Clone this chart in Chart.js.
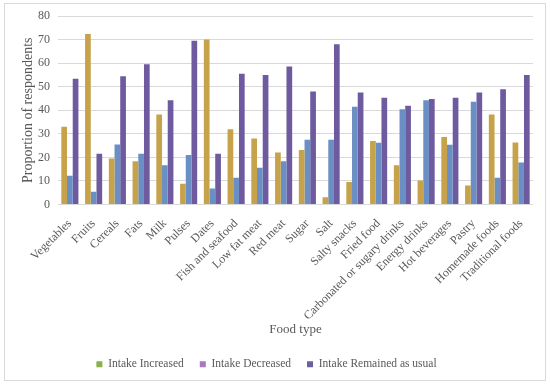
<!DOCTYPE html>
<html>
<head>
<meta charset="utf-8">
<script src="https://cdn.jsdelivr.net/npm/chart.js@4/dist/chart.umd.min.js"></script>
<style>
  body { margin: 0; background: #fff; }
  #wrap { width: 550px; height: 384px; }
</style>
</head>
<body>
<div id="wrap"><canvas id="myChart" width="550" height="384"></canvas></div>
<script>
const foods = [
  "Vegetables", "Fruits", "Cereals", "Fats", "Milk", "Pulses", "Dates",
  "Fish and seafood", "Low fat meat", "Red meat", "Sugar", "Salt",
  "Salty snacks", "Fried food", "Carbonated or sugary drinks", "Energy drinks",
  "Hot beverages", "Pastry", "Homemade foods", "Traditional foods"
];
const increased = [33, 72.4, 19.5, 18.4, 38.2, 8.8, 70, 31.9, 28, 22.1, 23.1, 3.1, 9.6, 26.9, 16.7, 10.2, 28.6, 8.1, 38.2, 26.3];
const decreased = [12.2, 5.4, 25.5, 21.5, 16.7, 21, 6.8, 11.3, 15.6, 18.4, 27.5, 27.5, 41.5, 26.2, 40.4, 44.2, 25.4, 43.6, 11.3, 17.8];
const remained = [53.4, 21.5, 54.4, 59.5, 44.2, 69.5, 21.5, 55.5, 55, 58.6, 48, 68, 47.5, 45.3, 41.9, 44.8, 45.3, 47.5, 48.9, 55];
const seriesNames = ["Intake Increased", "Intake Decreased", "Intake Remained as usual"];
const yTicks = [0, 10, 20, 30, 40, 50, 60, 70, 80];

const barColors = ["#c6a24a", "#6a8fc4", "#6e5a9e"];
const legendColors = ["#8cb04c", "#a878c0", "#6c5f9c"];
const textColor = "#595959";
const serif = "'Liberation Serif', 'Times New Roman', serif";

// white page and the thin outer frame
const framePlugin = {
  id: "frame",
  beforeDraw: (chart) => {
    const ctx = chart.ctx;
    ctx.save();
    ctx.fillStyle = "#fff";
    ctx.fillRect(0, 0, chart.width, chart.height);
    ctx.strokeStyle = "#d9d9d9";
    ctx.lineWidth = 1;
    ctx.strokeRect(4.5, 3.5, 541, 377);
    ctx.restore();
  },
};

const makeDataset = (label, data, i) => ({
  label: label,
  data: data,
  backgroundColor: barColors[i],
  borderWidth: 0,
  categoryPercentage: 0.72,
  barPercentage: 1,
});

new Chart(document.getElementById("myChart"), {
  type: "bar",
  data: {
    labels: foods,
    datasets: [
      makeDataset(seriesNames[0], increased, 0),
      makeDataset(seriesNames[1], decreased, 1),
      makeDataset(seriesNames[2], remained, 2),
    ],
  },
  options: {
    responsive: false,
    animation: false,
    layout: { padding: { left: 0, right: 17, top: 16, bottom: 4 } },
    plugins: {
      tooltip: { enabled: false },
      legend: {
        position: "bottom",
        labels: {
          color: textColor,
          font: { family: serif, size: 11.5 },
          boxWidth: 6,
          boxHeight: 6,
          padding: 16,
          generateLabels: (chart) =>
            chart.data.datasets.map((ds, i) => ({
              text: ds.label,
              fillStyle: legendColors[i],
              strokeStyle: legendColors[i],
              lineWidth: 0,
              fontColor: textColor,
              datasetIndex: i,
            })),
        },
      },
    },
    scales: {
      x: {
        grid: { display: false },
        border: { display: false },
        ticks: {
          color: textColor,
          font: { family: serif, size: 12 },
          minRotation: 45,
          maxRotation: 45,
          autoSkip: false,
          padding: 4,
        },
        title: {
          display: true,
          text: "Food type",
          color: textColor,
          font: { family: serif, size: 13 },
          padding: { top: 4, bottom: 5 },
        },
        afterFit: (scale) => {
          scale.height = 138;
        },
      },
      y: {
        min: 0,
        max: 80,
        afterBuildTicks: (scale) => {
          scale.ticks = yTicks.map((v) => ({ value: v }));
        },
        grid: { color: "#d9d9d9", drawTicks: false },
        border: { display: false },
        ticks: {
          color: textColor,
          font: { family: serif, size: 12 },
          padding: 8,
        },
        title: {
          display: true,
          text: "Proportion of respondents",
          color: textColor,
          font: { family: serif, size: 14 },
          padding: { top: 20, bottom: 0 },
        },
        afterFit: (scale) => {
          scale.width = 58;
        },
      },
    },
  },
  plugins: [framePlugin],
});
</script>
</body>
</html>
